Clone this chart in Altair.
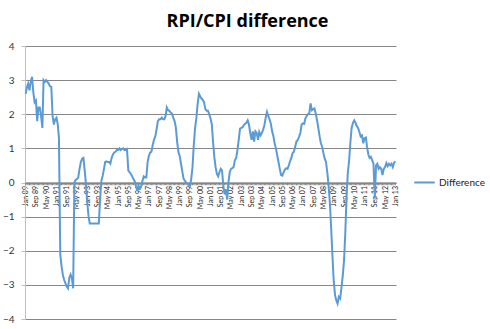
import altair as alt
import pandas as pd

# Monthly RPI - CPI difference, Jan 1989 .. Jan 2013
v1989 = [2.6, 2.8, 2.9, 2.7, 2.95, 3.1, 2.65, 2.35, 2.4, 1.8, 2.2, 2.2]
v1990 = [1.95, 1.6, 3.0, 2.95, 3.0, 2.95, 2.9, 2.82, 2.8, 1.95, 1.7, 1.85]
v1991 = [1.9, 1.7, 1.3, -2.1, -2.45, -2.7, -2.85, -2.95, -3.05, -3.1, -2.8, -2.7]
v1992 = [-2.8, -3.1, 0.0, 0.08, 0.1, 0.15, 0.4, 0.6, 0.7, 0.72, 0.35, -0.05]
v1993 = [-0.6, -1.0, -1.2, -1.2, -1.2, -1.2, -1.2, -1.2, -1.2, -1.2, -0.5, 0.05]
v1994 = [0.2, 0.4, 0.6, 0.62, 0.6, 0.6, 0.55, 0.72, 0.82, 0.88, 0.9, 0.95]
v1995 = [0.95, 1.0, 0.95, 0.98, 1.0, 0.95, 0.96, 0.98, 0.35, 0.3, 0.25, 0.18]
v1996 = [0.1, 0.03, -0.1, -0.25, -0.1, -0.18, -0.12, 0.05, 0.18, 0.15, 0.15, 0.6]
v1997 = [0.78, 0.88, 0.9, 1.1, 1.25, 1.35, 1.55, 1.8, 1.85, 1.85, 1.9, 1.85]
v1998 = [1.85, 1.95, 2.2, 2.12, 2.1, 2.05, 2.02, 1.9, 1.8, 1.62, 1.2, 0.9]
v1999 = [0.78, 0.55, 0.35, 0.12, 0.06, 0.0, -0.03, -0.07, -0.1, 0.1, 0.45, 1.1]
v2000 = [1.6, 1.9, 2.3, 2.6, 2.52, 2.46, 2.42, 2.35, 2.15, 2.1, 2.1, 2.0]
v2001 = [1.88, 1.7, 1.2, 0.75, 0.45, 0.25, 0.18, 0.3, 0.4, 0.35, -0.1, -0.35]
v2002 = [-0.2, -0.5, 0.0, 0.3, 0.4, 0.42, 0.45, 0.65, 0.72, 0.95, 1.25, 1.58]
v2003 = [1.6, 1.62, 1.68, 1.72, 1.75, 1.82, 1.7, 1.45, 1.25, 1.5, 1.2, 1.5]
v2004 = [1.45, 1.25, 1.48, 1.38, 1.45, 1.55, 1.68, 1.9, 2.07, 1.95, 1.85, 1.72]
v2005 = [1.5, 1.35, 1.15, 1.0, 0.8, 0.6, 0.4, 0.22, 0.2, 0.3, 0.38, 0.42]
v2006 = [0.4, 0.5, 0.62, 0.72, 0.86, 0.9, 1.05, 1.2, 1.25, 1.34, 1.45, 1.7]
v2007 = [1.73, 1.72, 1.88, 1.95, 2.0, 2.03, 2.32, 2.12, 2.15, 2.17, 2.02, 1.83]
v2008 = [1.6, 1.35, 1.15, 1.05, 0.86, 0.7, 0.6, 0.3, -0.1, -0.6, -1.35, -2.15]
v2009 = [-2.9, -3.3, -3.45, -3.55, -3.35, -3.4, -3.1, -2.75, -2.3, -1.5, -0.4, 0.3]
v2010 = [0.65, 1.2, 1.6, 1.75, 1.82, 1.75, 1.65, 1.6, 1.48, 1.35, 1.38, 1.15]
v2011 = [1.3, 1.32, 1.05, 0.82, 0.72, 0.75, 0.65, 0.55, -0.45, 0.5, 0.55, 0.4]
v2012 = [0.45, 0.4, 0.22, 0.4, 0.45, 0.57, 0.48, 0.55, 0.5, 0.55, 0.45, 0.58]
v2013 = [0.62]

values = (v1989 + v1990 + v1991 + v1992 + v1993 + v1994 + v1995 + v1996 + v1997
          + v1998 + v1999 + v2000 + v2001 + v2002 + v2003 + v2004 + v2005 + v2006
          + v2007 + v2008 + v2009 + v2010 + v2011 + v2012 + v2013)
months = pd.date_range("1989-01-01", periods=len(values), freq="MS")
series_name = "Difference"

df = pd.DataFrame({"date": months, "value": values, "series": series_name})
label_dates = [d.strftime("%Y-%m-%d") for d in months[::8]]
y_ticks = [-4, -3, -2, -1, 0, 1, 2, 3, 4]

FONT = "Lato"
GRID = "#878787"
LINE = "#5B9BD5"

xscale = alt.Scale(domain=["1988-12-16", "2013-01-16"])
yscale = alt.Scale(domain=[-4, 4], nice=False)

xaxis = alt.Axis(values=label_dates, format="%b %y", labelAngle=270,
                 labelFontSize=7, labelFont=FONT, labelColor="#222222",
                 offset=-136.5, domainColor=GRID, ticks=False,
                 grid=False, labelPadding=3, title=None,
                 labelOverlap=False, labelFlush=False)
yaxis = alt.Axis(values=y_ticks, grid=True, gridColor=GRID,
                 domainColor="#BFBFBF", tickColor="#BFBFBF", tickSize=4,
                 labelFontSize=10, labelFont=FONT, labelColor="#333333",
                 labelPadding=7, title=None, labelOverlap=False)

line = alt.Chart(df).mark_line(strokeWidth=2).encode(
    x=alt.X("date:T", scale=xscale, axis=xaxis),
    y=alt.Y("value:Q", scale=yscale, axis=yaxis),
    color=alt.Color("series:N", scale=alt.Scale(range=[LINE]),
                    legend=alt.Legend(title=None, orient="none", legendX=388,
                                      legendY=125, symbolType="stroke",
                                      symbolSize=420, symbolStrokeWidth=2,
                                      labelFontSize=10, labelFont=FONT,
                                      labelOffset=3, labelColor="#222222")),
)

ticks = alt.Chart(df).mark_rule(color=GRID, strokeWidth=1).encode(
    x=alt.X("date:T", scale=xscale, axis=xaxis),
    y=alt.YDatum(0, scale=yscale, axis=yaxis),
    y2=alt.datum(-0.08),
)

chart = alt.layer(ticks, line).properties(
    width=371, height=273,
    padding={"left": 25, "top": 46, "right": 94, "bottom": 10},
    autosize=alt.AutoSizeParams(type="none"),
    title=alt.TitleParams("RPI/CPI difference", font="Open Sans", fontSize=18,
                          fontWeight="bold", color="#000000", anchor="middle",
                          dx=37, offset=10),
).configure_view(stroke=None)

chart.save("out.html", embed_options={"renderer": "svg", "actions": False})
